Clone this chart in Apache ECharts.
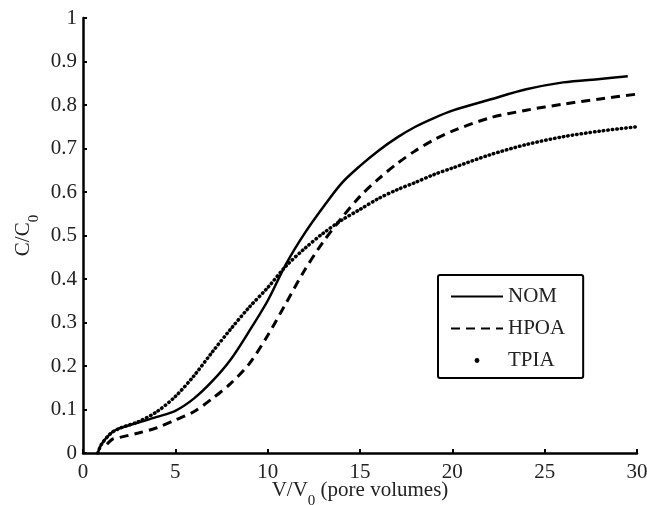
<!DOCTYPE html>
<html>
<head>
<meta charset="utf-8">
<script src="https://cdn.jsdelivr.net/npm/echarts@6/dist/echarts.min.js"></script>
<style>html,body{margin:0;padding:0;background:#fff}#c{width:647px;height:505px}</style>
</head>
<body>
<div id="c"></div>
<script>
// ---- data ----
const nomX  = [0.8, 1.0, 1.5, 2, 3, 4, 5, 6, 7, 8, 9, 10, 11, 12, 13, 14, 15, 16, 17, 18, 19, 20, 22, 24, 26, 28, 29.5];
const nomY  = [0, 0.02, 0.045, 0.057, 0.07, 0.083, 0.097, 0.125, 0.165, 0.215, 0.28, 0.35, 0.435, 0.505, 0.565, 0.62, 0.66, 0.695, 0.725, 0.75, 0.77, 0.787, 0.812, 0.836, 0.852, 0.86, 0.866];
const hpoaX = [1.3, 1.6, 2, 3, 4, 5, 6, 7, 8, 9, 10, 11, 12, 13, 14, 15, 16, 17, 18, 19, 20, 22, 24, 26, 28, 30];
const hpoaY = [0.02, 0.032, 0.036, 0.046, 0.058, 0.076, 0.095, 0.125, 0.16, 0.205, 0.27, 0.345, 0.42, 0.485, 0.54, 0.59, 0.63, 0.665, 0.695, 0.72, 0.74, 0.77, 0.788, 0.802, 0.814, 0.825];
const tpiaX = [0.8, 1.0, 1.5, 2, 3, 4, 5, 6, 7, 8, 9, 10, 11, 12, 13, 14, 15, 16, 17, 18, 19, 20, 22, 24, 26, 28, 30];
const tpiaY = [0, 0.02, 0.045, 0.057, 0.072, 0.095, 0.13, 0.177, 0.232, 0.285, 0.335, 0.38, 0.43, 0.47, 0.505, 0.535, 0.56, 0.585, 0.605, 0.622, 0.64, 0.655, 0.685, 0.709, 0.727, 0.74, 0.75];
const seriesNames = ['NOM', 'HPOA', 'TPIA'];
const xTicks = [0, 5, 10, 15, 20, 25, 30];
const yTicks = [0, 0.1, 0.2, 0.3, 0.4, 0.5, 0.6, 0.7, 0.8, 0.9, 1];

const pair = (xs, ys) => xs.map((x, i) => [x, ys[i]]);
const FONT = '"Liberation Serif", "Times New Roman", serif';
const TXT = '#222';
const FS = 21;
const nameRich = {
  a: {fontFamily: FONT, fontSize: 21, color: TXT, lineHeight: 22, verticalAlign: 'top'},
  b: {fontFamily: FONT, fontSize: 15, color: TXT, lineHeight: 15, padding: [14, 0, 0, 0], verticalAlign: 'top'}
};

const chart = echarts.init(document.getElementById('c'), null, {renderer: 'canvas'});
chart.setOption({
  animation: false,
  backgroundColor: '#fff',
  textStyle: {fontFamily: FONT},
  grid: {left: 83, right: 10, top: 18, bottom: 52, containLabel: false, outerBoundsMode: 'none'},
  xAxis: {
    type: 'value', min: xTicks[0], max: xTicks[xTicks.length - 1], interval: 5,
    name: '{a|V/V}{b|0}{a| (pore volumes)}',
    nameLocation: 'middle', nameGap: 27, nameMoveOverlap: false,
    nameTextStyle: {rich: nameRich},
    axisLine: {show: true, lineStyle: {color: '#000', width: 2.5}},
    axisTick: {show: true, inside: true, length: 4, lineStyle: {color: '#000', width: 2}},
    axisLabel: {fontFamily: FONT, fontSize: FS, color: TXT, margin: 9},
    splitLine: {show: false}
  },
  yAxis: {
    type: 'value', min: yTicks[0], max: yTicks[yTicks.length - 1], interval: 0.1,
    name: '{a|C/C}{b|0}',
    nameLocation: 'middle', nameGap: 48, nameRotate: 90, nameMoveOverlap: false,
    nameTextStyle: {rich: nameRich},
    axisLine: {show: true, lineStyle: {color: '#000', width: 2.5}},
    axisTick: {show: true, inside: true, length: 4, lineStyle: {color: '#000', width: 2}},
    axisLabel: {fontFamily: FONT, fontSize: FS, color: TXT, margin: 6,
      formatter: v => String(Math.round(v * 10) / 10)},
    splitLine: {show: false}
  },
  legend: {
    orient: 'vertical', left: 438, top: 275,
    padding: [11, 18, 7, 12], itemGap: 11,
    itemWidth: 52, itemHeight: 6,
    borderColor: '#000', borderWidth: 2, borderRadius: 2,
    backgroundColor: '#fff',
    textStyle: {fontFamily: FONT, fontSize: FS, color: TXT},
    data: [
      {name: seriesNames[0], itemStyle: {opacity: 0}},
      {name: seriesNames[1], itemStyle: {opacity: 0}},
      {name: seriesNames[2], lineStyle: {opacity: 0}}
    ]
  },
  series: [
    {name: seriesNames[0], type: 'line', data: pair(nomX, nomY), smooth: 0.3,
     symbol: 'none', lineStyle: {color: '#000', width: 2.5}, itemStyle: {color: '#000'}},
    {name: seriesNames[1], type: 'line', data: pair(hpoaX, hpoaY), smooth: 0.3,
     symbol: 'none', lineStyle: {color: '#000', width: 3, type: [9, 6]}, itemStyle: {color: '#000'}},
    {name: seriesNames[2], type: 'line', data: pair(tpiaX, tpiaY), smooth: 0.3,
     symbol: 'circle', symbolSize: 3.5, showSymbol: false,
     lineStyle: {color: '#000', width: 3.5, type: [0.5, 4], cap: 'round'}, itemStyle: {color: '#000'}}
  ]
});
</script>
</body>
</html>
